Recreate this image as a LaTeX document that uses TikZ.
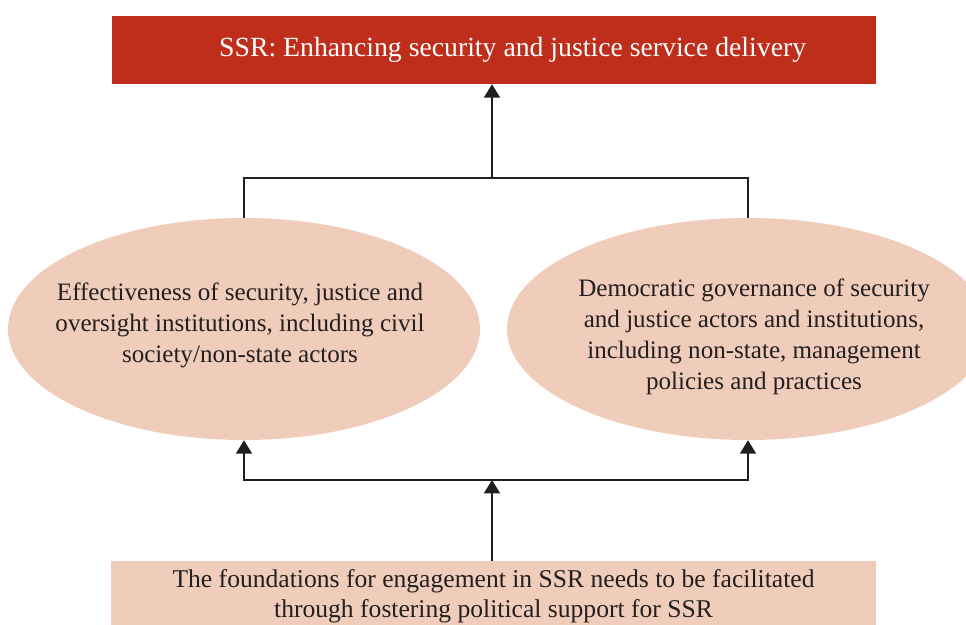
\documentclass[tikz,border=0pt]{standalone}
\usepackage{fontspec}
\setmainfont{Liberation Serif}
\usetikzlibrary{shapes.geometric,arrows.meta}
\definecolor{ssrRed}{HTML}{BF2E1B}
\definecolor{ssrPeach}{HTML}{F0CDBA}
\definecolor{lineGrey}{HTML}{231F20}
\begin{document}
\begin{tikzpicture}
[x=0.75pt,y=-0.75pt,
  boxDecorate/.style={shape=rectangle,fill=ssrRed,text=white,inner sep=0pt,
    minimum width=573pt,minimum height=51pt,font=\fontsize{20.8}{24}\selectfont},%
  ellipseDecorate/.style={shape=ellipse,fill=ssrPeach,inner sep=0pt,
    minimum width=354pt,minimum height=166.5pt},%
  textDecorate/.style={inner sep=0pt,align=center,
    font=\fontsize{18.8}{23.2}\selectfont,text=lineGrey},%
  baseDecorate/.style={shape=rectangle,fill=ssrPeach,inner sep=0pt,anchor=north,
    minimum width=574pt,minimum height=52.5pt,align=center,
    font=\fontsize{19.2}{22.5}\selectfont,text=lineGrey},%
  lineDecorate/.style={-,line width=1.1pt,draw=lineGrey},%
  arrowDecorate/.style={-{Triangle[width=12pt,length=10pt]},line width=1.1pt,
    draw=lineGrey}]
\useasboundingbox (0,0) rectangle (966,624);
%% boxes and ellipses
\node (ssr) at (494,50) [boxDecorate]
  {\hspace*{28pt}SSR: Enhancing security and justice service delivery};
\node (eff) at (244,329) [ellipseDecorate] {};
\node (dem) at (748,329) [ellipseDecorate,minimum width=361.5pt] {};
\node (found) at (493.5,561) [baseDecorate]
  {The foundations for engagement in SSR needs to be facilitated\\
   through fostering political support for SSR};
%% ellipse texts
\node (effText) at (240,325) [textDecorate]
  {Effectiveness of security, justice and\\
   oversight institutions, including civil\\
   society/non-state actors};
\node (demText) at (754,337) [textDecorate]
  {Democratic governance of security\\
   and justice actors and institutions,\\
   including non-state, management\\
   policies and practices};
%% joints
\coordinate (topJoin) at (492,178);
\coordinate (lowJoin) at (492,480);
%% connectors
\draw[lineDecorate] (eff.north) |- (topJoin) -| (dem.north);
\draw[arrowDecorate] (topJoin) -- (topJoin |- ssr.south);
\foreach \endnode in {eff, dem}
{
  \draw[arrowDecorate] (lowJoin) -| (\endnode.south);
}
\draw[arrowDecorate] (lowJoin |- found.north) -- (lowJoin);
\end{tikzpicture}
\end{document}
